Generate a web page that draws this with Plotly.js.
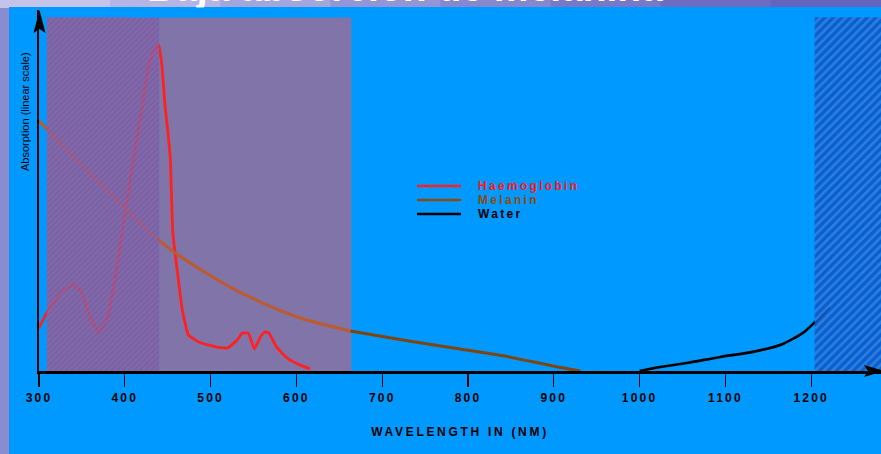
<!DOCTYPE html>
<html><head><meta charset="utf-8">
<script src="https://cdn.plot.ly/plotly-3.0.1.min.js"></script>
<style>html,body{margin:0;padding:0;background:#8a8dd0;overflow:hidden}#chart{width:881px;height:454px}</style>
</head><body><div id="chart"></div>
<script>
// ---- data ----
const titleText = 'Baja absorción de melanina';
const xTitle = 'WAVELENGTH IN (NM)';
const yTitle = 'Absorption (linear scale)';
const tickValues = [300, 400, 500, 600, 700, 800, 900, 1000, 1100, 1200];
const tickLabels = ['300', '400', '500', '600', '700', '800', '900', '1000', '1100', '1200'];

const seriesNames = ['Haemoglobin', 'Melanin', 'Water'];
const seriesColors = ['#ff2020', '#8b4c10', '#000000'];

const hbWavelength = [300, 309, 325, 340, 350, 359, 369, 379, 389, 398, 410, 420, 429, 439, 443, 447, 450, 453, 454, 456, 461, 467, 474, 488, 508, 520, 531, 537, 544, 551, 558, 563, 568, 577, 589, 604, 616];
const hbAbsorption = [11.9, 16.1, 21.6, 24.1, 21.9, 15.0, 10.8, 14.1, 26.0, 39.9, 58.4, 73.1, 86.1, 90.6, 85.3, 73.1, 66.8, 59.3, 52.1, 38.2, 28.0, 16.9, 10.0, 7.8, 6.6, 6.4, 8.6, 10.5, 10.5, 6.1, 9.4, 10.8, 10.5, 6.6, 3.6, 1.7, 0.6];

const melWavelength = [300, 344, 403, 429, 456, 491, 531, 569, 608, 663, 724, 783, 841, 899, 931];
const melAbsorption = [69.3, 58.4, 44.6, 38.5, 33.2, 27.7, 22.2, 18.0, 14.4, 11.1, 8.6, 6.4, 4.2, 1.4, 0.0];

const waterWavelength = [1000, 1024, 1055, 1094, 1132, 1167, 1190, 1202, 1221];
const waterAbsorption = [0.0, 1.1, 2.2, 3.9, 5.3, 7.5, 10.5, 13.0, 17.7];

// shaded wavelength bands: hatched purple, plain purple, hatched blue
const bandStart = [309, 440, 1204];
const bandEnd = [440, 664, 1300];
const bandTop = 98;

// ---- layout helpers ----
const W = 881, H = 454, ML = 39, MR = 0, MT = 10, MB = 83;
const PW = W - ML - MR, PH = H - MT - MB;
const px = x => (x - ML) / PW;
const py = y => (H - MB - y) / PH;
const xMin = 300, xMax = 300 + PW / 0.858;

function band(i) {
  return {x: [bandStart[i], bandEnd[i], bandEnd[i], bandStart[i], bandStart[i]],
          y: [0, 0, bandTop, bandTop, 0]};
}
const ls = s => `<span style="letter-spacing:2.2px">${s}</span>`;

const traces = [];
traces.push(Object.assign(band(1), {type: 'scatter', mode: 'none', fill: 'toself',
  fillcolor: '#8074a8', hoverinfo: 'skip', showlegend: false}));
traces.push({type: 'scatter', mode: 'lines', x: hbWavelength, y: hbAbsorption, name: seriesNames[0],
  line: {color: seriesColors[0], width: 2.8, shape: 'spline', smoothing: 0.3}, showlegend: false});
const cut = bandEnd[1];
const idx = melWavelength.map((w, i) => i);
const m1 = idx.filter(i => melWavelength[i] <= cut);
const m2 = idx.filter(i => melWavelength[i] >= cut - 1);
traces.push({type: 'scatter', mode: 'lines', x: m1.map(i => melWavelength[i]), y: m1.map(i => melAbsorption[i]),
  name: seriesNames[1], line: {color: '#bd5a2e', width: 3, shape: 'spline', smoothing: 0.8}, showlegend: false});
traces.push({type: 'scatter', mode: 'lines', x: m2.map(i => melWavelength[i]), y: m2.map(i => melAbsorption[i]),
  name: seriesNames[1], line: {color: '#7d4512', width: 3, shape: 'spline', smoothing: 0.8}, showlegend: false});
traces.push({type: 'scatter', mode: 'lines', x: waterWavelength, y: waterAbsorption, name: seriesNames[2],
  line: {color: seriesColors[2], width: 2.6, shape: 'spline', smoothing: 0.6}, showlegend: false});
traces.push(Object.assign(band(0), {type: 'scatter', mode: 'none', fill: 'toself',
  fillcolor: 'rgba(160,78,138,0.78)',
  fillpattern: {shape: '/', size: 4, solidity: 0.45, bgcolor: 'rgba(160,78,138,0.78)', fgcolor: 'rgba(128,112,172,1)', fgopacity: 0.7},
  hoverinfo: 'skip', showlegend: false}));
traces.push(Object.assign(band(2), {type: 'scatter', mode: 'none', fill: 'toself',
  fillcolor: 'rgba(14,77,196,0.8)',
  fillpattern: {shape: '/', size: 6, solidity: 0.45, bgcolor: 'rgba(14,77,196,0.8)', fgcolor: 'rgba(52,142,226,0.85)', fgopacity: 0.85},
  hoverinfo: 'skip', showlegend: false}));

// marble frame shades (decoration)
const frameShades = ['#c4c4ea', '#b4b5e4', '#a3a5dd', '#9395d6', '#8587cf', '#7779c8', '#6b6cc2', '#6264bd'];
const shapes = [];
frameShades.forEach((c, i) => {
  shapes.push({type: 'rect', xref: 'paper', yref: 'paper', x0: px(i * W / frameShades.length), x1: px((i + 1) * W / frameShades.length + 1),
    y0: py(8), y1: py(-2), fillcolor: c, line: {width: 0}, layer: 'below'});
});
shapes.push({type: 'rect', xref: 'paper', yref: 'paper', x0: px(-2), x1: px(9), y0: py(460), y1: py(8),
  fillcolor: '#8a8cd2', line: {width: 0}, layer: 'below'});
shapes.push(
  {type: 'rect', xref: 'paper', yref: 'paper', x0: px(9), x1: 1.05, y0: -0.4, y1: py(7),
   fillcolor: '#0099ff', line: {width: 0}, layer: 'below'},
  {type: 'path', xref: 'paper', yref: 'paper', xsizemode: 'pixel', ysizemode: 'pixel', xanchor: 0, yanchor: 1,
   path: 'M0.5,0L-5.5,-23L0.5,-19L6.5,-23Z', fillcolor: '#000', line: {width: 0}, layer: 'above'},
  {type: 'path', xref: 'paper', yref: 'paper', xsizemode: 'pixel', ysizemode: 'pixel', xanchor: 1, yanchor: 0,
   path: 'M3,0L-17,6L-13,0L-17,-6Z', fillcolor: '#000', line: {width: 0}, layer: 'above'}
);
const annotations = [
  {text: titleText, xref: 'paper', yref: 'paper', x: px(405), y: py(11), xanchor: 'center', yanchor: 'bottom',
   showarrow: false, font: {family: 'Liberation Sans, Arial, sans-serif', size: 39, weight: 700, color: '#ffffff'}},
  // panel edge hiding the part of the title that falls below the frame
  {text: ' ', xref: 'paper', yref: 'paper', x: px(410), y: py(7), xanchor: 'center', yanchor: 'top',
   width: 560, height: 9, borderpad: 0, bgcolor: '#0099ff', showarrow: false},
  {text: yTitle, xref: 'paper', yref: 'paper', x: px(25), y: py(112), textangle: -90, showarrow: false,
   xanchor: 'center', yanchor: 'middle',
   font: {family: 'Liberation Sans Narrow, Arial Narrow, sans-serif', size: 11, color: '#000'}}
];
const legendY = [186, 200, 214];
const legendTextColors = ['#ff1a1a', '#8b4c10', '#000000'];
seriesNames.forEach((n, i) => {
  shapes.push({type: 'line', xref: 'paper', yref: 'paper', x0: px(417), x1: px(461), y0: py(legendY[i]), y1: py(legendY[i]),
    line: {color: seriesColors[i], width: 2.5}});
  annotations.push({text: `<span style="letter-spacing:2.3px">${n}</span>`, xref: 'paper', yref: 'paper',
    x: px(476), y: py(legendY[i]), xanchor: 'left', yanchor: 'middle', showarrow: false,
    font: {family: 'Liberation Sans, Arial, sans-serif', size: 12, weight: 700, color: legendTextColors[i]}});
});

const layout = {
  width: W, height: H,
  margin: {l: ML, r: MR, t: MT, b: MB, pad: 0},
  paper_bgcolor: '#8a8dd0', plot_bgcolor: '#0099ff',
  showlegend: false,
  xaxis: {range: [xMin, xMax], showgrid: false, zeroline: false, showline: true, linecolor: '#000', linewidth: 2.5,
    tickmode: 'array', tickvals: tickValues, ticktext: tickLabels.map(ls), ticks: 'outside', ticklen: 13,
    tickwidth: 1.2, tickcolor: '#000', ticklabelstandoff: 1,
    tickfont: {family: 'Liberation Sans, Arial, sans-serif', size: 12, weight: 700, color: '#000'},
    title: {text: `<span style="letter-spacing:2.7px">${xTitle}</span>`, standoff: 24,
      font: {family: 'Liberation Sans, Arial, sans-serif', size: 12, weight: 700, color: '#000'}},
    fixedrange: true},
  yaxis: {range: [0, 100], showgrid: false, zeroline: false, showline: true, linecolor: '#000', linewidth: 2.5,
    showticklabels: false, ticks: '', fixedrange: true},
  shapes: shapes,
  annotations: annotations
};
Plotly.newPlot('chart', traces, layout, {displayModeBar: false, staticPlot: true});
</script></body></html>
